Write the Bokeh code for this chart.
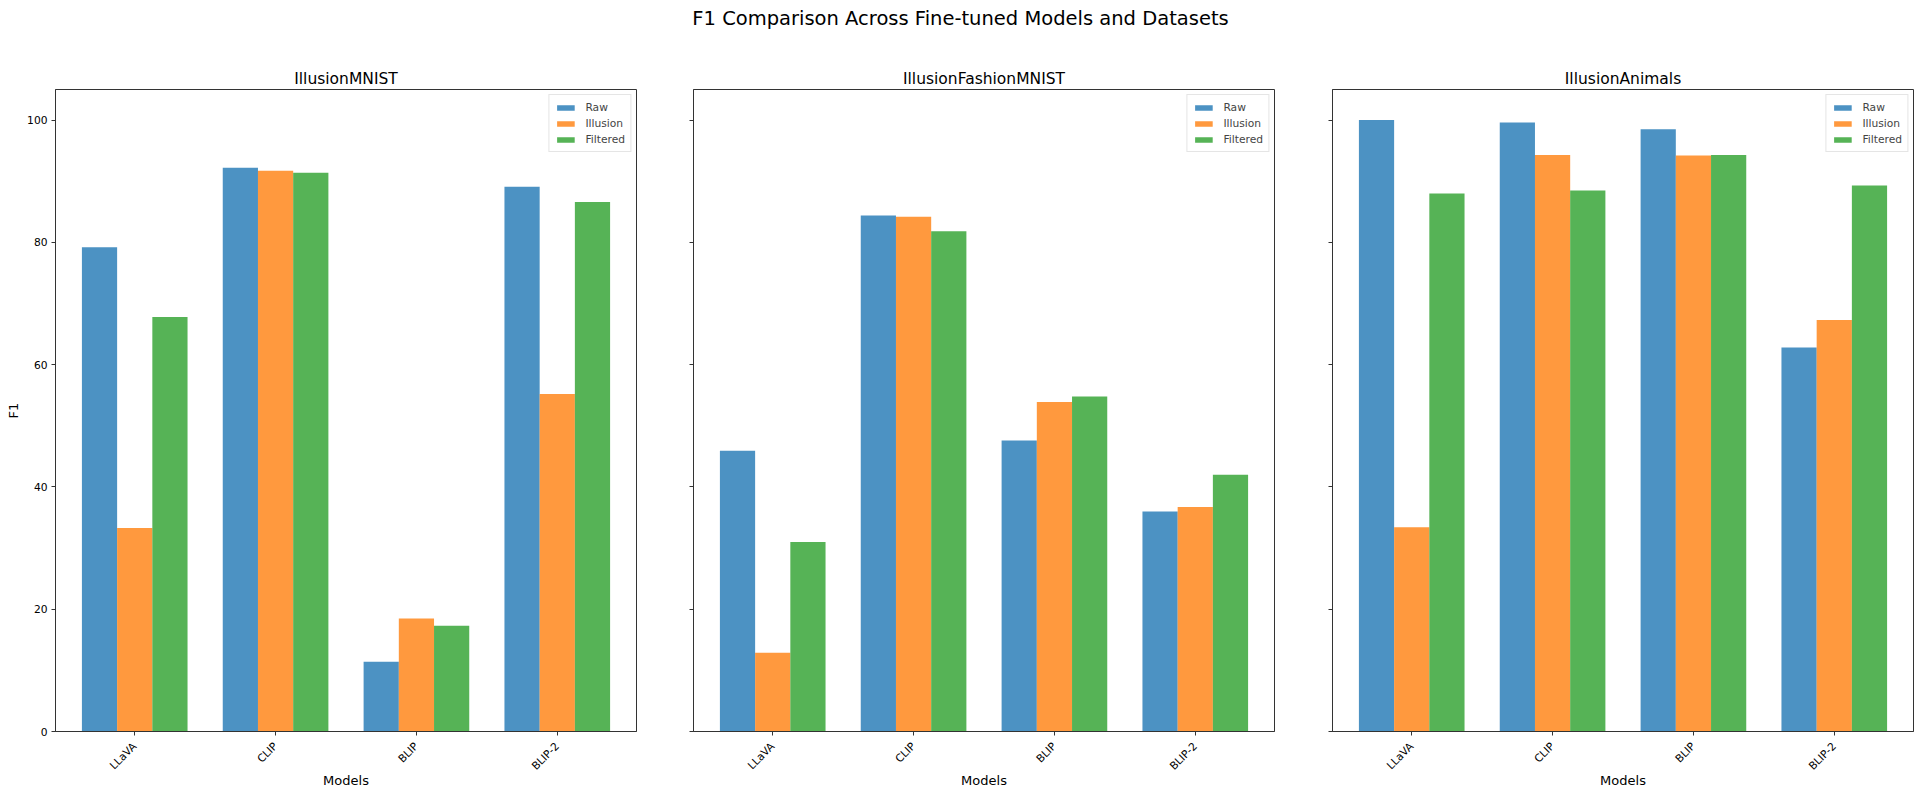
from bokeh.plotting import figure
from bokeh.models import FactorRange, Range1d, FixedTicker, CustomJSTickFormatter, ColumnDataSource
from bokeh.transform import dodge
from bokeh.layouts import column, row
from bokeh.embed import file_html
from bokeh.resources import INLINE
from bokeh.core.properties import value

# ---- data ----
suptitle = "F1 Comparison Across Fine-tuned Models and Datasets"
models = ["LLaVA", "CLIP", "BLIP", "BLIP-2"]
series = ["Raw", "Illusion", "Filtered"]
datasets = ["IllusionMNIST", "IllusionFashionMNIST", "IllusionAnimals"]

mnist_raw = [79.2, 92.2, 11.4, 89.1]
mnist_illusion = [33.3, 91.7, 18.5, 55.2]
mnist_filtered = [67.8, 91.4, 17.3, 86.6]

fashion_raw = [45.9, 84.4, 47.6, 36.0]
fashion_illusion = [12.9, 84.2, 53.9, 36.7]
fashion_filtered = [31.0, 81.8, 54.8, 42.0]

animals_raw = [100.0, 99.6, 98.5, 62.8]
animals_illusion = [33.4, 94.3, 94.2, 67.3]
animals_filtered = [88.0, 88.5, 94.3, 89.3]

y_ticks = [0, 20, 40, 60, 80, 100]
x_label = "Models"
y_label = "F1"

# ---- style ----
FONT = "DejaVu Sans"
colors = ["#1f77b4", "#ff7f0e", "#2ca02c"]
offsets = [-0.25, 0.0, 0.25]
SPINE = "#333333"


def make_panel(name, raw, ill, filt, width, bl, br, first):
    src = ColumnDataSource(dict(model=models, Raw=raw, Illusion=ill, Filtered=filt))
    p = figure(
        x_range=FactorRange(*models, range_padding=0.03125),
        y_range=Range1d(0, 105),
        width=width, height=752,
        output_backend="svg", toolbar_location=None,
        min_border_left=bl, min_border_right=br,
        min_border_top=45, min_border_bottom=65,
        title=name,
    )
    for s, off, col in zip(series, offsets, colors):
        p.vbar(x=dodge("model", off, range=p.x_range), top=s, width=0.25, source=src,
               fill_color=col, fill_alpha=0.8, line_color=None, legend_label=s)

    p.title.text_font = FONT
    p.title.text_font_size = "15.5px"
    p.title.text_font_style = "normal"
    p.title.align = "center"
    p.title.text_color = "#000000"
    p.title.standoff = 4

    p.grid.visible = False
    p.outline_line_color = SPINE
    p.outline_line_width = 1
    p.background_fill_color = "white"
    p.border_fill_color = "white"

    for ax in (p.xaxis[0], p.yaxis[0]):
        ax.axis_line_color = SPINE
        ax.major_tick_line_color = SPINE
        ax.major_tick_out = 4
        ax.major_tick_in = 0
        ax.minor_tick_line_color = None
        ax.major_label_text_font = FONT
        ax.major_label_text_font_size = "10.7px"
        ax.major_label_text_color = "#000000"
        ax.axis_label_text_font = FONT
        ax.axis_label_text_font_size = "13px"
        ax.axis_label_text_font_style = "normal"
        ax.axis_label_text_color = "#000000"

    p.yaxis.ticker = FixedTicker(ticks=y_ticks)
    p.yaxis.major_label_standoff = 4
    if first:
        p.yaxis.axis_label = y_label
        p.yaxis.axis_label_standoff = 3
    else:
        p.yaxis.formatter = CustomJSTickFormatter(code="return ''")

    p.xaxis.axis_label = x_label
    p.xaxis.major_label_orientation = 0.785398
    p.xaxis.major_label_standoff = 9
    p.xaxis.axis_label_standoff = -7

    lg = p.legend[0]
    lg.location = "top_right"
    lg.margin = 5
    lg.padding = 5
    lg.spacing = 2
    lg.label_height = 14
    lg.glyph_height = 7
    lg.glyph_width = 22
    lg.label_standoff = 9
    lg.label_text_font = FONT
    lg.label_text_font_size = "10.7px"
    lg.border_line_color = "#cccccc"
    lg.border_line_width = 1
    lg.background_fill_alpha = 0.8
    return p


p1 = make_panel(datasets[0], mnist_raw, mnist_illusion, mnist_filtered, 664, 55, 28, True)
p2 = make_panel(datasets[1], fashion_raw, fashion_illusion, fashion_filtered, 639, 29, 29, False)
p3 = make_panel(datasets[2], animals_raw, animals_illusion, animals_filtered, 617, 29, 7, False)

# suptitle figure
t = figure(width=1920, height=44, output_backend="svg", toolbar_location=None,
           x_range=Range1d(0, 1), y_range=Range1d(0, 1),
           x_axis_type=None, y_axis_type=None, min_border=0)
t.grid.visible = False
t.outline_line_color = None
t.text(x=[0.5], y=[0.59], text=[suptitle], text_align="center", text_baseline="middle",
       text_font=value(FONT), text_font_size="19.5px", text_color="#000000")

layout = column(t, row(p1, p2, p3))
open("out.html", "w").write(file_html(layout, INLINE))
